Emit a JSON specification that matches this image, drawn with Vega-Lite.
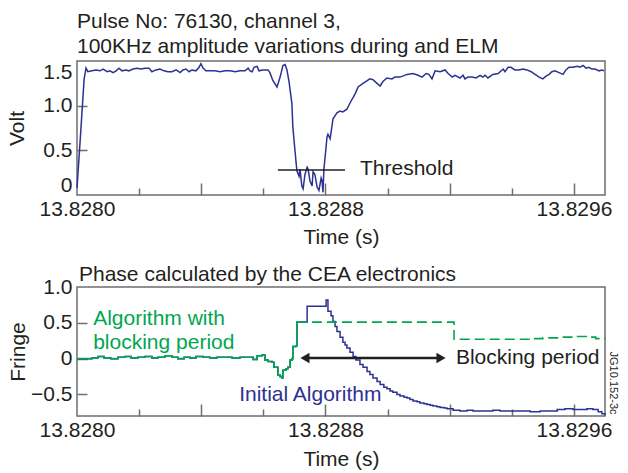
{
  "$schema": "https://vega.github.io/schema/vega-lite/v6.json",
  "padding": {"left": 6, "top": 9, "right": 5, "bottom": 0},
  "config": {
    "font": "Liberation Sans",
    "view": {"stroke": "#6d6e71", "strokeWidth": 1.5},
    "axis": {"grid": false, "domain": false, "labelFontSize": 21, "labelColor": "#231F20", "labelFont": "Liberation Sans", "titleFont": "Liberation Sans", "titleFontSize": 21, "titleFontWeight": "normal", "titleColor": "#231F20", "tickColor": "#6d6e71", "tickWidth": 1.5, "labelFlush": false, "labelOverlap": false},
    "title": {"font": "Liberation Sans", "fontSize": 21, "fontWeight": "normal", "color": "#231F20", "anchor": "start", "frame": "group"},
    "concat": {"spacing": 15}
  },
  "datasets": {
    "volt": [
      {"t":13.828,"v":0.08},{"t":13.82801,"v":0.60},{"t":13.828023,"v":1.30},{"t":13.828029,"v":1.42},{"t":13.828035,"v":1.38},{"t":13.828048,"v":1.39},{"t":13.828061,"v":1.40},{"t":13.828074,"v":1.39},{"t":13.828084,"v":1.41},{"t":13.828097,"v":1.38},{"t":13.828106,"v":1.39},{"t":13.828116,"v":1.37},{"t":13.828126,"v":1.39},{"t":13.828135,"v":1.42},{"t":13.828145,"v":1.39},{"t":13.828158,"v":1.40},{"t":13.828167,"v":1.39},{"t":13.82818,"v":1.41},{"t":13.828193,"v":1.42},{"t":13.828206,"v":1.41},{"t":13.828219,"v":1.42},{"t":13.828232,"v":1.42},{"t":13.828241,"v":1.38},{"t":13.828254,"v":1.40},{"t":13.828267,"v":1.41},{"t":13.82828,"v":1.39},{"t":13.828293,"v":1.38},{"t":13.828306,"v":1.38},{"t":13.828319,"v":1.40},{"t":13.828332,"v":1.37},{"t":13.828341,"v":1.40},{"t":13.828351,"v":1.41},{"t":13.828361,"v":1.38},{"t":13.82837,"v":1.40},{"t":13.828383,"v":1.39},{"t":13.828393,"v":1.43},{"t":13.828399,"v":1.47},{"t":13.828406,"v":1.42},{"t":13.828415,"v":1.39},{"t":13.828428,"v":1.39},{"t":13.828444,"v":1.39},{"t":13.82846,"v":1.38},{"t":13.828477,"v":1.39},{"t":13.828493,"v":1.39},{"t":13.828509,"v":1.38},{"t":13.828525,"v":1.39},{"t":13.828541,"v":1.39},{"t":13.828551,"v":1.42},{"t":13.828557,"v":1.39},{"t":13.828564,"v":1.38},{"t":13.82857,"v":1.43},{"t":13.82858,"v":1.44},{"t":13.828586,"v":1.39},{"t":13.828599,"v":1.40},{"t":13.828615,"v":1.40},{"t":13.828621,"v":1.37},{"t":13.828631,"v":1.28},{"t":13.828644,"v":1.21},{"t":13.828654,"v":1.32},{"t":13.828663,"v":1.45},{"t":13.82867,"v":1.46},{"t":13.828676,"v":1.40},{"t":13.828683,"v":1.26},{"t":13.828692,"v":1.02},{"t":13.828695,"v":0.76},{"t":13.828702,"v":0.49},{"t":13.828708,"v":0.27},{"t":13.828715,"v":0.21},{"t":13.828718,"v":0.29},{"t":13.828724,"v":0.10},{"t":13.828728,"v":0.07},{"t":13.828734,"v":0.23},{"t":13.828741,"v":0.31},{"t":13.828744,"v":0.29},{"t":13.82875,"v":0.16},{"t":13.828757,"v":0.10},{"t":13.82876,"v":0.26},{"t":13.828766,"v":0.23},{"t":13.828773,"v":0.09},{"t":13.828779,"v":0.05},{"t":13.828786,"v":0.19},{"t":13.828789,"v":0.16},{"t":13.828792,"v":0.03},{"t":13.828795,"v":0.29},{"t":13.828802,"v":0.54},{"t":13.828805,"v":0.65},{"t":13.828808,"v":0.68},{"t":13.828815,"v":0.63},{"t":13.828821,"v":0.77},{"t":13.828824,"v":0.85},{"t":13.828837,"v":0.92},{"t":13.828847,"v":0.94},{"t":13.828856,"v":0.93},{"t":13.828869,"v":0.96},{"t":13.828879,"v":1.03},{"t":13.828895,"v":1.13},{"t":13.828905,"v":1.21},{"t":13.828921,"v":1.25},{"t":13.828943,"v":1.30},{"t":13.828953,"v":1.29},{"t":13.828966,"v":1.25},{"t":13.828976,"v":1.22},{"t":13.828985,"v":1.27},{"t":13.828998,"v":1.31},{"t":13.829014,"v":1.30},{"t":13.829024,"v":1.32},{"t":13.82904,"v":1.32},{"t":13.829063,"v":1.35},{"t":13.829082,"v":1.36},{"t":13.829098,"v":1.34},{"t":13.829111,"v":1.32},{"t":13.829124,"v":1.36},{"t":13.829133,"v":1.35},{"t":13.829143,"v":1.30},{"t":13.829153,"v":1.39},{"t":13.829169,"v":1.38},{"t":13.829185,"v":1.40},{"t":13.829195,"v":1.36},{"t":13.829208,"v":1.32},{"t":13.829217,"v":1.34},{"t":13.829233,"v":1.31},{"t":13.829243,"v":1.34},{"t":13.829249,"v":1.30},{"t":13.829259,"v":1.32},{"t":13.829272,"v":1.32},{"t":13.829285,"v":1.31},{"t":13.829298,"v":1.34},{"t":13.829307,"v":1.32},{"t":13.829314,"v":1.34},{"t":13.829323,"v":1.31},{"t":13.829339,"v":1.35},{"t":13.829356,"v":1.36},{"t":13.829372,"v":1.41},{"t":13.829378,"v":1.38},{"t":13.829388,"v":1.43},{"t":13.829397,"v":1.43},{"t":13.82941,"v":1.40},{"t":13.829423,"v":1.40},{"t":13.829436,"v":1.41},{"t":13.829449,"v":1.40},{"t":13.829462,"v":1.38},{"t":13.829475,"v":1.35},{"t":13.829488,"v":1.32},{"t":13.8295,"v":1.30},{"t":13.82951,"v":1.33},{"t":13.82952,"v":1.35},{"t":13.829529,"v":1.38},{"t":13.829539,"v":1.39},{"t":13.829552,"v":1.37},{"t":13.829565,"v":1.35},{"t":13.829574,"v":1.40},{"t":13.829584,"v":1.43},{"t":13.829597,"v":1.43},{"t":13.82961,"v":1.44},{"t":13.82962,"v":1.43},{"t":13.829629,"v":1.45},{"t":13.829639,"v":1.42},{"t":13.829648,"v":1.43},{"t":13.829658,"v":1.41},{"t":13.829668,"v":1.41},{"t":13.829681,"v":1.39},{"t":13.82969,"v":1.40},{"t":13.829697,"v":1.39}
    ],
    "initial": [
      {"t":13.828,"v":0.00},{"t":13.828026,"v":0.00},{"t":13.828048,"v":0.01},{"t":13.828068,"v":0.03},{"t":13.828087,"v":0.01},{"t":13.828109,"v":0.00},{"t":13.828132,"v":0.02},{"t":13.828155,"v":0.03},{"t":13.828174,"v":0.01},{"t":13.828196,"v":0.02},{"t":13.828219,"v":0.03},{"t":13.828241,"v":0.01},{"t":13.828261,"v":0.02},{"t":13.828283,"v":0.04},{"t":13.828306,"v":0.02},{"t":13.828325,"v":0.00},{"t":13.828345,"v":0.02},{"t":13.828364,"v":0.01},{"t":13.828383,"v":0.03},{"t":13.828406,"v":0.02},{"t":13.828428,"v":0.01},{"t":13.828451,"v":0.02},{"t":13.828473,"v":0.02},{"t":13.828499,"v":0.01},{"t":13.828525,"v":0.02},{"t":13.828547,"v":0.02},{"t":13.828567,"v":-0.01},{"t":13.82858,"v":0.04},{"t":13.828596,"v":0.05},{"t":13.828605,"v":-0.02},{"t":13.828615,"v":-0.04},{"t":13.828628,"v":-0.05},{"t":13.828634,"v":-0.12},{"t":13.828647,"v":-0.23},{"t":13.828654,"v":-0.25},{"t":13.82866,"v":-0.27},{"t":13.828663,"v":-0.16},{"t":13.828673,"v":-0.14},{"t":13.828679,"v":-0.12},{"t":13.828686,"v":-0.02},{"t":13.828692,"v":0.00},{"t":13.828695,"v":0.17},{"t":13.828705,"v":0.18},{"t":13.828708,"v":0.51},{"t":13.828741,"v":0.73},{"t":13.828802,"v":0.82},{"t":13.828808,"v":0.66},{"t":13.828818,"v":0.60},{"t":13.828824,"v":0.52},{"t":13.828831,"v":0.45},{"t":13.828837,"v":0.38},{"t":13.828847,"v":0.30},{"t":13.828856,"v":0.23},{"t":13.828863,"v":0.19},{"t":13.828869,"v":0.15},{"t":13.828879,"v":0.09},{"t":13.828889,"v":0.03},{"t":13.828898,"v":-0.02},{"t":13.828911,"v":-0.08},{"t":13.828921,"v":-0.12},{"t":13.828934,"v":-0.18},{"t":13.828943,"v":-0.22},{"t":13.828953,"v":-0.27},{"t":13.828966,"v":-0.32},{"t":13.828976,"v":-0.36},{"t":13.828988,"v":-0.40},{"t":13.828998,"v":-0.42},{"t":13.829008,"v":-0.45},{"t":13.829017,"v":-0.47},{"t":13.82903,"v":-0.50},{"t":13.82904,"v":-0.52},{"t":13.829053,"v":-0.54},{"t":13.829063,"v":-0.55},{"t":13.829072,"v":-0.57},{"t":13.829082,"v":-0.59},{"t":13.829095,"v":-0.60},{"t":13.829104,"v":-0.62},{"t":13.829117,"v":-0.63},{"t":13.829127,"v":-0.64},{"t":13.829137,"v":-0.65},{"t":13.829146,"v":-0.66},{"t":13.829159,"v":-0.67},{"t":13.829169,"v":-0.68},{"t":13.829182,"v":-0.69},{"t":13.829191,"v":-0.70},{"t":13.829201,"v":-0.70},{"t":13.829211,"v":-0.72},{"t":13.829233,"v":-0.73},{"t":13.829256,"v":-0.72},{"t":13.829275,"v":-0.73},{"t":13.829298,"v":-0.73},{"t":13.82932,"v":-0.73},{"t":13.829339,"v":-0.72},{"t":13.829362,"v":-0.73},{"t":13.829384,"v":-0.73},{"t":13.829404,"v":-0.73},{"t":13.829426,"v":-0.73},{"t":13.829459,"v":-0.74},{"t":13.829491,"v":-0.73},{"t":13.829523,"v":-0.73},{"t":13.829546,"v":-0.71},{"t":13.829571,"v":-0.70},{"t":13.829597,"v":-0.71},{"t":13.82962,"v":-0.71},{"t":13.829642,"v":-0.70},{"t":13.829661,"v":-0.71},{"t":13.829678,"v":-0.74},{"t":13.82969,"v":-0.77},{"t":13.8297,"v":-0.79}
    ],
    "blocking": [
      {"t":13.828,"v":0.00},{"t":13.828026,"v":0.00},{"t":13.828048,"v":0.01},{"t":13.828068,"v":0.03},{"t":13.828087,"v":0.01},{"t":13.828109,"v":0.00},{"t":13.828132,"v":0.02},{"t":13.828155,"v":0.03},{"t":13.828174,"v":0.01},{"t":13.828196,"v":0.02},{"t":13.828219,"v":0.03},{"t":13.828241,"v":0.01},{"t":13.828261,"v":0.02},{"t":13.828283,"v":0.04},{"t":13.828306,"v":0.02},{"t":13.828325,"v":0.00},{"t":13.828345,"v":0.02},{"t":13.828364,"v":0.01},{"t":13.828383,"v":0.03},{"t":13.828406,"v":0.02},{"t":13.828428,"v":0.01},{"t":13.828451,"v":0.02},{"t":13.828473,"v":0.02},{"t":13.828499,"v":0.01},{"t":13.828525,"v":0.02},{"t":13.828547,"v":0.02},{"t":13.828567,"v":-0.01},{"t":13.82858,"v":0.04},{"t":13.828596,"v":0.05},{"t":13.828605,"v":-0.02},{"t":13.828615,"v":-0.04},{"t":13.828628,"v":-0.05},{"t":13.828634,"v":-0.12},{"t":13.828647,"v":-0.23},{"t":13.828654,"v":-0.25},{"t":13.82866,"v":-0.27},{"t":13.828663,"v":-0.16},{"t":13.828673,"v":-0.14},{"t":13.828679,"v":-0.12},{"t":13.828686,"v":-0.02},{"t":13.828692,"v":0.00},{"t":13.828695,"v":0.17},{"t":13.828705,"v":0.18},{"t":13.828708,"v":0.51}
    ],
    "blockingDashed": [
      {"t":13.828708,"v":0.51},{"t":13.829214,"v":0.27},{"t":13.8293,"v":0.27},{"t":13.82938,"v":0.27},{"t":13.82946,"v":0.28},{"t":13.8295,"v":0.29},{"t":13.82955,"v":0.30},{"t":13.8296,"v":0.31},{"t":13.82964,"v":0.30},{"t":13.82967,"v":0.28},{"t":13.8297,"v":0.27}
    ]
  },
  "vconcat": [
    {
      "width": 528,
      "height": 134,
      "title": {"text": ["Pulse No: 76130, channel 3,", "100KHz amplitude variations during and ELM"], "lineHeight": 25, "offset": 4},
      "resolve": {"axis": {"x": "independent", "y": "independent"}},
      "layer": [
        {
          "data": {"name": "volt"},
          "mark": {"type": "line", "color": "#2E3192", "strokeWidth": 1.5},
          "encoding": {
            "x": {"field": "t", "type": "quantitative", "scale": {"domain": [13.828, 13.8297], "nice": false, "zero": false},
                  "axis": {"orient": "bottom", "values": [13.828, 13.8288, 13.8296], "format": ".4f", "ticks": false, "labelPadding": 3, "title": "Time (s)", "titlePadding": 7}},
            "y": {"field": "v", "type": "quantitative", "scale": {"domain": [0, 1.5], "nice": false, "zero": false},
                  "axis": {"orient": "left", "values": [0, 0.5, 1, 1.5], "labelExpr": "datum.value == 0 ? '0' : format(datum.value, '.1f')", "ticks": false, "labelFlush": true, "labelPadding": 5, "title": "Volt", "titlePadding": 15}}
          }
        },
        {
          "data": {"values": [{"t1": 13.828647, "t2": 13.828863, "v": 0.28}]},
          "mark": {"type": "rule", "color": "#231F20", "strokeWidth": 1.5},
          "encoding": {
            "x": {"field": "t1", "type": "quantitative", "scale": {"domain": [13.828, 13.8297], "nice": false, "zero": false},
                  "axis": {"orient": "bottom", "values": [13.8282, 13.8286, 13.829, 13.8294], "tickSize": -7, "labels": false, "title": null}},
            "x2": {"field": "t2"},
            "y": {"field": "v", "type": "quantitative", "axis": {"orient": "left", "values": [0.5, 1], "tickSize": -10, "labels": false, "title": null}}
          }
        },
        {
          "data": {"values": [{"t": 13.828911, "v": 0.29, "label": "Threshold"}]},
          "mark": {"type": "text", "align": "left", "baseline": "middle", "fontSize": 21, "color": "#231F20"},
          "encoding": {
            "x": {"field": "t", "type": "quantitative", "scale": {"domain": [13.828, 13.8297], "nice": false, "zero": false},
                  "axis": {"orient": "bottom", "values": [13.8284, 13.8288, 13.8292, 13.8296], "tickSize": -12, "labels": false, "title": null}},
            "y": {"field": "v", "type": "quantitative", "axis": null},
            "text": {"field": "label"}
          }
        }
      ]
    },
    {
      "width": 528,
      "height": 129,
      "title": {"text": "Phase calculated by the CEA electronics", "offset": -9, "dx": 2},
      "resolve": {"axis": {"x": "independent", "y": "independent"}},
      "layer": [
        {
          "data": {"name": "initial"},
          "mark": {"type": "line", "color": "#2E3192", "strokeWidth": 1.5, "interpolate": "step-after"},
          "encoding": {
            "x": {"field": "t", "type": "quantitative", "scale": {"domain": [13.828, 13.8297], "nice": false, "zero": false},
                  "axis": {"orient": "bottom", "values": [13.828, 13.8288, 13.8296], "format": ".4f", "ticks": false, "labelPadding": 3, "title": "Time (s)", "titlePadding": 8}},
            "y": {"field": "v", "type": "quantitative", "scale": {"domain": [-0.8, 1.0], "nice": false, "zero": false},
                  "axis": {"orient": "left", "values": [-0.5, 0, 0.5, 1], "labelExpr": "datum.value == 0 ? '0' : format(datum.value, '.1f')", "ticks": false, "labelPadding": 5, "title": "Fringe", "titlePadding": 2}}
          }
        },
        {
          "data": {"name": "blocking"},
          "mark": {"type": "line", "color": "#00A651", "strokeWidth": 1.6, "interpolate": "step-after"},
          "encoding": {
            "x": {"field": "t", "type": "quantitative", "axis": null},
            "y": {"field": "v", "type": "quantitative", "axis": null}
          }
        },
        {
          "data": {"name": "blockingDashed"},
          "mark": {"type": "line", "color": "#00A651", "strokeWidth": 1.6, "interpolate": "step-after", "strokeDash": [10, 5]},
          "encoding": {
            "x": {"field": "t", "type": "quantitative",
                  "axis": {"orient": "bottom", "values": [13.8284, 13.8288, 13.8292, 13.8296], "tickSize": -12, "labels": false, "title": null}},
            "y": {"field": "v", "type": "quantitative", "axis": null}
          }
        },
        {
          "data": {"values": [{"t1": 13.828734, "t2": 13.829172, "v": 0.01}]},
          "mark": {"type": "rule", "color": "#231F20", "strokeWidth": 2.5},
          "encoding": {
            "x": {"field": "t1", "type": "quantitative",
                  "axis": {"orient": "bottom", "values": [13.8282, 13.8286, 13.829, 13.8294], "tickSize": -7, "labels": false, "title": null}},
            "x2": {"field": "t2"},
            "y": {"field": "v", "type": "quantitative", "axis": {"orient": "left", "values": [-0.5, 0, 0.5], "tickSize": -10, "labels": false, "title": null}}
          }
        },
        {
          "data": {"values": [{"t": 13.828734, "v": 0.01, "dir": "left"}]},
          "mark": {"type": "point", "shape": "triangle-left", "filled": true, "size": 110, "color": "#231F20", "opacity": 1},
          "encoding": {
            "x": {"field": "t", "type": "quantitative", "axis": null},
            "y": {"field": "v", "type": "quantitative", "axis": null}
          }
        },
        {
          "data": {"values": [{"t": 13.829172, "v": 0.01, "dir": "right"}]},
          "mark": {"type": "point", "shape": "triangle-right", "filled": true, "size": 110, "color": "#231F20", "opacity": 1},
          "encoding": {
            "x": {"field": "t", "type": "quantitative", "axis": null},
            "y": {"field": "v", "type": "quantitative", "axis": null}
          }
        },
        {
          "data": {"values": [{"t": 13.828052, "v": 0.55, "label": "Algorithm with"}, {"t": 13.828052, "v": 0.22, "label": "blocking period"}]},
          "mark": {"type": "text", "align": "left", "baseline": "middle", "fontSize": 21, "color": "#00A651"},
          "encoding": {
            "x": {"field": "t", "type": "quantitative", "axis": null},
            "y": {"field": "v", "type": "quantitative", "axis": null},
            "text": {"field": "label"}
          }
        },
        {
          "data": {"values": [{"t": 13.828522, "v": -0.51, "label": "Initial Algorithm"}]},
          "mark": {"type": "text", "align": "left", "baseline": "middle", "fontSize": 21, "color": "#2E3192"},
          "encoding": {
            "x": {"field": "t", "type": "quantitative", "axis": null},
            "y": {"field": "v", "type": "quantitative", "axis": null},
            "text": {"field": "label"}
          }
        },
        {
          "data": {"values": [{"t": 13.82922, "v": 0.01, "label": "Blocking period"}]},
          "mark": {"type": "text", "align": "left", "baseline": "middle", "fontSize": 21, "color": "#231F20"},
          "encoding": {
            "x": {"field": "t", "type": "quantitative", "axis": null},
            "y": {"field": "v", "type": "quantitative", "axis": null},
            "text": {"field": "label"}
          }
        },
        {
          "data": {"values": [{"t": 13.829726, "v": -0.34, "label": "JG10.152-3c"}]},
          "mark": {"type": "text", "align": "center", "baseline": "middle", "fontSize": 11, "angle": 90, "color": "#231F20"},
          "encoding": {
            "x": {"field": "t", "type": "quantitative", "axis": null},
            "y": {"field": "v", "type": "quantitative", "axis": null},
            "text": {"field": "label"}
          }
        }
      ]
    }
  ]
}
